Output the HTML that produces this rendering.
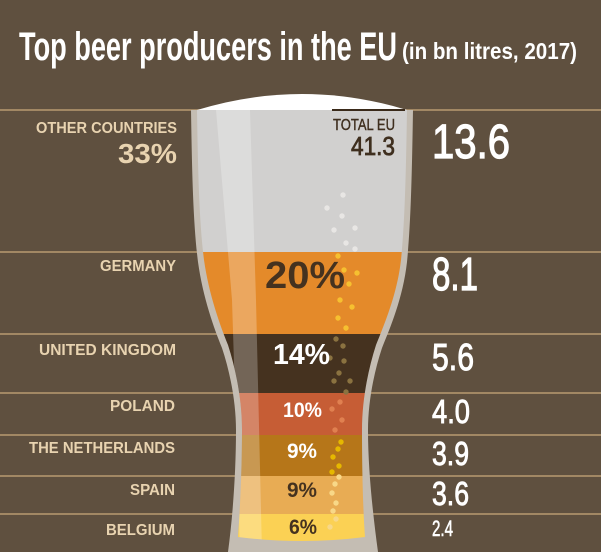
<!DOCTYPE html>
<html><head><meta charset="utf-8"><style>
html,body{margin:0;padding:0;background:#5f503f;}
svg{display:block;}
text{font-family:"Liberation Sans Narrow","Liberation Sans",sans-serif;}
</style></head><body>
<svg width="601" height="552" viewBox="0 0 601 552" xmlns="http://www.w3.org/2000/svg">
<rect width="601" height="552" fill="#5f503f"/>
<text x="19" y="60" font-size="40" font-weight="bold" fill="#fff" textLength="378" lengthAdjust="spacingAndGlyphs">Top beer producers in the EU</text>
<text x="402" y="59" font-size="23" font-weight="bold" fill="#fff" textLength="175" lengthAdjust="spacingAndGlyphs">(in bn litres, 2017)</text>
<g stroke="#b89a70" stroke-width="1.5">
<line x1="0" y1="110" x2="601" y2="110"/><line x1="0" y1="252" x2="601" y2="252"/>
<line x1="0" y1="334" x2="601" y2="334"/><line x1="0" y1="393" x2="601" y2="393"/>
<line x1="0" y1="435" x2="601" y2="435"/><line x1="0" y1="476" x2="601" y2="476"/>
<line x1="0" y1="514" x2="601" y2="514"/>
</g>
<defs>
<clipPath id="inner"><path d="M197,110 C198,170 199,220 204,260 C209,295 220,325 228,345 C236,370 242,400 242,430 C242,470 240,510 238,537 Q302,545 365,537 C363,510 362,470 362,430 C362,400 368,370 376,345 C384,325 397,295 401,260 C405,220 406,170 407,110 Z"/></clipPath>
</defs>
<path d="M191,110 C192,170 193,222 198,262 C203,298 214,328 222,348 C230,372 236,402 236,430 C236,470 233,515 228,552 L378,552 C373,515 368,470 368,430 C368,402 374,372 382,348 C390,328 403,298 407,262 C411,222 412,170 413,110 Z" fill="#c4bdb3"/>
<path d="M197,110 Q302,78 407,110 Z" fill="#fff"/>
<g clip-path="url(#inner)">
<rect x="190" y="110" width="230" height="142" fill="#d1d0cf"/>
<rect x="190" y="252" width="230" height="82" fill="#e48a2a"/>
<rect x="190" y="334" width="230" height="59" fill="#45321f"/>
<rect x="190" y="393" width="230" height="42" fill="#c65d35"/>
<rect x="190" y="435" width="230" height="41" fill="#b67619"/>
<rect x="190" y="476" width="230" height="38" fill="#e8ac54"/>
<rect x="190" y="514" width="230" height="30" fill="#fbd154"/>
<path d="M216,110 L250,110 L256,300 L262,552 L240,552 L232,300 Z" fill="#fff" opacity="0.25"/>
</g>
<line x1="332" y1="110" x2="405" y2="110" stroke="#3a2a1a" stroke-width="2"/>
<g fill="#e8e6e4">
<circle cx="343" cy="195" r="2.7"/><circle cx="327" cy="208" r="2.7"/><circle cx="342" cy="216" r="2.7"/><circle cx="334" cy="230" r="2.7"/><circle cx="355" cy="228" r="2.7"/><circle cx="346" cy="243" r="2.7"/><circle cx="355" cy="249" r="2.7"/>
</g>
<g fill="#f6c030"><circle cx="338" cy="256" r="2.7"/><circle cx="344" cy="270" r="2.7"/><circle cx="357" cy="273" r="2.7"/><circle cx="349" cy="284" r="2.7"/><circle cx="340" cy="300" r="2.7"/><circle cx="352" cy="307" r="2.7"/><circle cx="338" cy="318" r="2.7"/><circle cx="346" cy="328" r="2.7"/></g>
<g fill="#8a7240"><circle cx="336" cy="339" r="2.7"/><circle cx="343" cy="346" r="2.7"/><circle cx="330" cy="358" r="2.7"/><circle cx="344" cy="361" r="2.7"/><circle cx="339" cy="373" r="2.7"/><circle cx="334" cy="381" r="2.7"/><circle cx="350" cy="381" r="2.7"/><circle cx="346" cy="392" r="2.7"/></g>
<g fill="#e08050"><circle cx="340" cy="402" r="2.7"/><circle cx="332" cy="409" r="2.7"/><circle cx="342" cy="420" r="2.7"/><circle cx="335" cy="430" r="2.7"/></g>
<g fill="#e6b800"><circle cx="341" cy="442" r="2.7"/><circle cx="338" cy="449" r="2.7"/><circle cx="333" cy="457" r="2.7"/><circle cx="339" cy="466" r="2.7"/><circle cx="332" cy="472" r="2.7"/></g>
<g fill="#f8d888"><circle cx="339" cy="477" r="2.7"/><circle cx="335" cy="484" r="2.7"/><circle cx="332" cy="493" r="2.7"/><circle cx="336" cy="503" r="2.7"/><circle cx="333" cy="511" r="2.7"/><circle cx="336" cy="519" r="2.7"/><circle cx="330" cy="527" r="2.7"/></g>
<g fill="#e8d3b0" font-weight="bold" font-size="16">
<text x="36" y="133" textLength="141" lengthAdjust="spacingAndGlyphs">OTHER COUNTRIES</text>
<text x="118" y="163" font-size="28" textLength="59" lengthAdjust="spacingAndGlyphs">33%</text>
<text x="100" y="271" textLength="76" lengthAdjust="spacingAndGlyphs">GERMANY</text>
<text x="39" y="355" textLength="137" lengthAdjust="spacingAndGlyphs">UNITED KINGDOM</text>
<text x="110" y="411" textLength="65" lengthAdjust="spacingAndGlyphs">POLAND</text>
<text x="29" y="453" textLength="146" lengthAdjust="spacingAndGlyphs">THE NETHERLANDS</text>
<text x="130" y="495" textLength="45" lengthAdjust="spacingAndGlyphs">SPAIN</text>
<text x="106" y="535" textLength="69" lengthAdjust="spacingAndGlyphs">BELGIUM</text>
</g>
<g fill="#3f2f1f" stroke="#3f2f1f" stroke-width="0.4">
<text x="333" y="130" font-size="16" textLength="62" lengthAdjust="spacingAndGlyphs">TOTAL EU</text>
<text x="351" y="155" font-size="26" stroke-width="0.8" textLength="44" lengthAdjust="spacingAndGlyphs">41.3</text>
</g>
<g font-weight="bold">
<text x="265" y="288" font-size="38" fill="#45321f" textLength="80" lengthAdjust="spacingAndGlyphs">20%</text>
<text x="273" y="364" font-size="29" fill="#fff" textLength="57" lengthAdjust="spacingAndGlyphs">14%</text>
<text x="283" y="417" font-size="21" fill="#fff" textLength="39" lengthAdjust="spacingAndGlyphs">10%</text>
<text x="287" y="458" font-size="21" fill="#fff" textLength="30" lengthAdjust="spacingAndGlyphs">9%</text>
<text x="287" y="497" font-size="21" fill="#45321f" textLength="30" lengthAdjust="spacingAndGlyphs">9%</text>
<text x="289" y="534" font-size="21" fill="#45321f" textLength="28" lengthAdjust="spacingAndGlyphs">6%</text>
</g>
<g fill="#fff" stroke="#fff" stroke-width="1.2">
<text x="432" y="158" font-size="48" textLength="78" lengthAdjust="spacingAndGlyphs">13.6</text>
<text x="432" y="290" font-size="46" textLength="46" lengthAdjust="spacingAndGlyphs">8.1</text>
<text x="432" y="370" font-size="38" stroke-width="1" textLength="42" lengthAdjust="spacingAndGlyphs">5.6</text>
<text x="432" y="423" font-size="33" stroke-width="0.9" textLength="38" lengthAdjust="spacingAndGlyphs">4.0</text>
<text x="432" y="465" font-size="33" stroke-width="0.9" textLength="37" lengthAdjust="spacingAndGlyphs">3.9</text>
<text x="432" y="505" font-size="33" stroke-width="0.9" textLength="37" lengthAdjust="spacingAndGlyphs">3.6</text>
<text x="432" y="536" font-size="22" stroke-width="0.6" textLength="21" lengthAdjust="spacingAndGlyphs">2.4</text>
</g>
</svg>
</body></html>
